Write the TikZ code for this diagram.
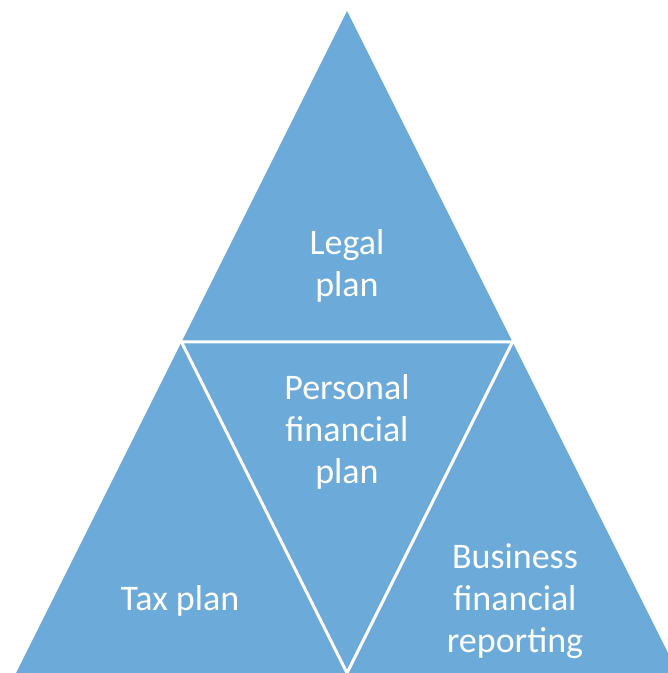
\documentclass[tikz,border=0pt]{standalone}
\usepackage{fontspec}
\setmainfont{Carlito}
\usepackage{tikz}
\definecolor{planblue}{RGB}{108,170,218}
\tikzset{
  plantext/.style={text=white, font=\fontsize{36}{42}\selectfont,
    align=center, inner sep=0pt},
  planpart/.style={fill=planblue},
  plansplit/.style={draw=white, line width=3pt, line join=miter},
}

\begin{document}
\begin{tikzpicture}[x=1pt, y=1pt]
  \useasboundingbox (0,0) rectangle (668,673);
  \clip (0,0) rectangle (668,673);
  % Corners of the outer triangle
  \coordinate (Top)   at (347,662);
  \coordinate (Left)  at (16,0);
  \coordinate (Right) at (678,0);
  % Mid points of its sides
  \coordinate (MidL)  at (181.5,331);
  \coordinate (MidR)  at (512.5,331);
  \coordinate (MidB)  at (347,0);
  % Whole triangle, then the inner one cut out in white
  \fill[planpart] (Top) -- (Left) -- (Right) -- cycle;
  \draw[plansplit] (MidL) -- (MidR) -- (MidB) -- cycle;
  % Labels
  \node[plantext] at (347,407) (Legal)    {Legal\\plan};
  \node[plantext] at (347,241) (Personal) {Personal\\financial\\plan};
  \node[plantext] at (180,72)  (Tax)      {Tax plan};
  \node[plantext] at (515,72)  (Business) {Business\\financial\\reporting};
\end{tikzpicture}
\end{document}
